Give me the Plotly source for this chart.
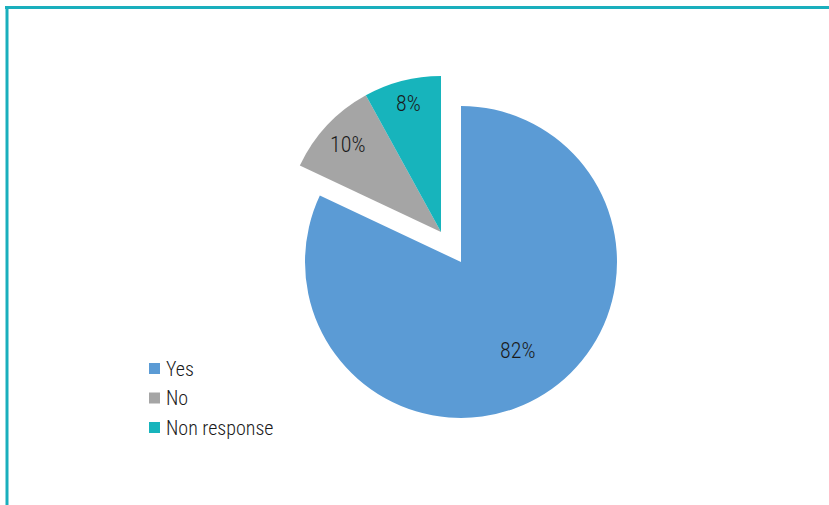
import math
import plotly.graph_objects as go

# Survey responses
labels = ["Yes", "No", "Non response"]
values = [82, 10, 8]
colors = ["#5B9BD5", "#A5A5A5", "#17B4BC"]

W, H = 829, 505
FONT = "Roboto Condensed, Liberation Sans Narrow, sans-serif"
TEXT = "#1a1a1a"

# Pie geometry in pixels
cx, cy, r = 461, 262, 156          # centre (from top-left) and radius
dx, dy = -20, -30                  # offset of the exploded group (px, y down)
label_frac = [0.67, 0.82, 0.85]    # radial position of the percentage labels
offsets = [(0, 0), (dx, dy), (dx, dy)]


def domain(ox, oy):
    x0 = (cx + ox - r) / W
    x1 = (cx + ox + r) / W
    y0 = (H - (cy + oy + r)) / H
    y1 = (H - (cy + oy - r)) / H
    return dict(x=[x0, x1], y=[y0, y1])


total = sum(values)
pct = [f"{round(v / total * 100)}%" for v in values]
clear = "rgba(0,0,0,0)"

fig = go.Figure()

# Main slice
fig.add_trace(go.Pie(
    labels=labels, values=values, sort=False, direction="clockwise", rotation=0,
    marker=dict(colors=[colors[0], clear, clear], line=dict(width=0)),
    textinfo="none", domain=domain(0, 0), showlegend=False,
    hoverinfo="label+percent",
))

# Exploded slices, pulled out together
fig.add_trace(go.Pie(
    labels=labels, values=values, sort=False, direction="clockwise", rotation=0,
    marker=dict(colors=[clear, colors[1], colors[2]], line=dict(width=0)),
    textinfo="none", domain=domain(dx, dy), showlegend=False,
    hoverinfo="label+percent",
))

annotations = []
# Percentage labels placed along each slice's bisector
cum = 0
for i, v in enumerate(values):
    theta = 2 * math.pi * (cum + v / 2) / total
    cum += v
    ox, oy = offsets[i]
    px = cx + ox + label_frac[i] * r * math.sin(theta)
    py = cy + oy - label_frac[i] * r * math.cos(theta)
    annotations.append(dict(
        x=px / W, y=(H - py) / H, xref="paper", yref="paper",
        text=pct[i], showarrow=False, xanchor="center", yanchor="middle",
        font=dict(family=FONT, size=22, color=TEXT, weight=300),
    ))

# Legend: coloured squares with labels
leg_x, leg_y, leg_step, sq = 149, 368.5, 29.5, 11
shapes = []
for i, (lab, col) in enumerate(zip(labels, colors)):
    yc = leg_y + i * leg_step
    shapes.append(dict(
        type="rect", xref="paper", yref="paper",
        x0=leg_x / W, x1=(leg_x + sq) / W,
        y0=(H - (yc + sq / 2)) / H, y1=(H - (yc - sq / 2)) / H,
        fillcolor=col, line=dict(width=0),
    ))
    annotations.append(dict(
        x=(leg_x + sq + 4) / W, y=(H - yc) / H, xref="paper", yref="paper",
        text=lab, showarrow=False, xanchor="left", yanchor="middle",
        font=dict(family=FONT, size=20, color=TEXT, weight=300),
    ))

# Frame lines along the top and left edges
frame = "#1AAFBD"
shapes += [
    dict(type="line", xref="paper", yref="paper",
         x0=5 / W, x1=1, y0=(H - 7.5) / H, y1=(H - 7.5) / H,
         line=dict(color=frame, width=3)),
    dict(type="line", xref="paper", yref="paper",
         x0=7 / W, x1=7 / W, y0=0, y1=(H - 6) / H,
         line=dict(color=frame, width=3)),
]

fig.update_layout(
    width=W, height=H,
    margin=dict(l=0, r=0, t=0, b=0),
    paper_bgcolor="white", plot_bgcolor="white",
    showlegend=False,
    annotations=annotations,
    shapes=shapes,
)

fig.write_html("out.html")
